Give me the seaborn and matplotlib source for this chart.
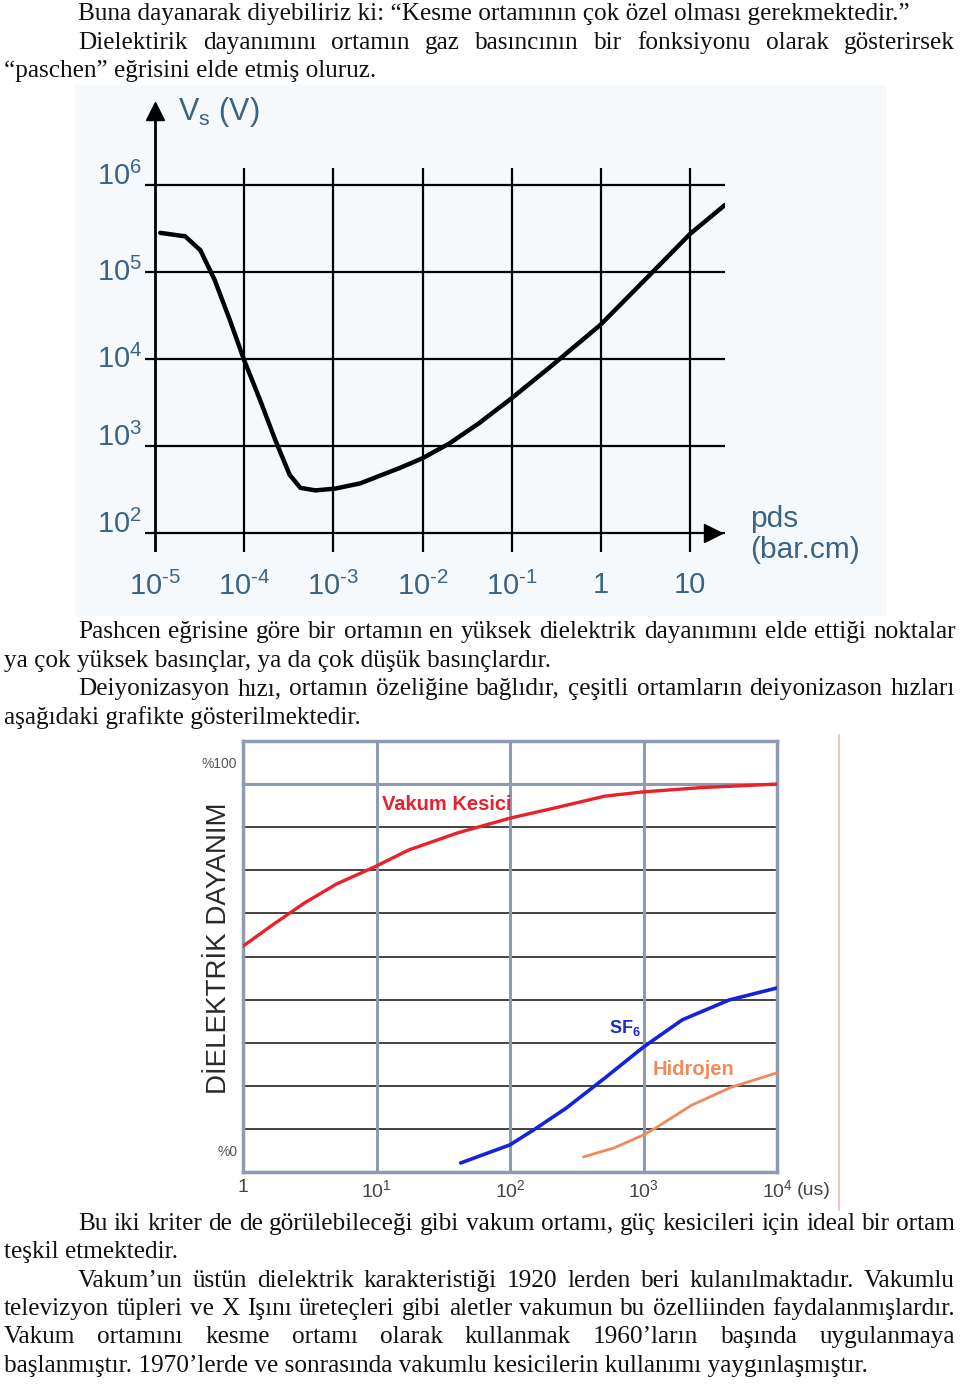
import matplotlib
matplotlib.use("Agg")
import numpy as np
import matplotlib.pyplot as plt
import seaborn as sns
from matplotlib import font_manager
from matplotlib.patches import Rectangle
from matplotlib.lines import Line2D

# --- Paschen egrisi verileri ---
PASCHEN_PDS = [1.15e-5, 2.19e-5, 3.24e-5, 4.68e-5, 6.92e-5, 1.0e-4, 1.51e-4, 2.24e-4,
               3.24e-4, 4.27e-4, 6.31e-4, 1.05e-3, 2.0e-3, 5.62e-3, 1.0e-2, 2.0e-2,
               4.27e-2, 0.1, 0.263, 0.977, 3.55, 10.0, 24.5]
PASCHEN_V = [2.82e5, 2.57e5, 1.78e5, 8.13e4, 2.82e4, 9.77e3, 3.39e3, 1.17e3,
             468, 331, 309, 324, 372, 562, 724, 1.07e3,
             1.82e3, 3.55e3, 7.94e3, 2.45e4, 9.33e4, 2.75e5, 5.89e5]
PDS_TICKS = [1e-5, 1e-4, 1e-3, 1e-2, 1e-1, 1, 10]
PDS_LABELS = ["$10^{\u20105}$", "$10^{\u20104}$", "$10^{\u20103}$", "$10^{\u20102}$",
              "$10^{\u20101}$", "1", "10"]
V_TICKS = [1e2, 1e3, 1e4, 1e5, 1e6]
V_LABELS = ["$10^{2}$", "$10^{3}$", "$10^{4}$", "$10^{5}$", "$10^{6}$"]
V_LABEL_VA = ["baseline", "baseline", "center", "center", "baseline"]

# --- Deiyonizasyon verileri ---
VAKUM_T = [1, 1.66, 2.88, 5.0, 10, 17.4, 40.7, 100, 219, 513, 1000, 2750, 10000]
VAKUM_Y = [52.4, 57.3, 62.4, 66.8, 71.0, 74.7, 78.7, 82.1, 84.5, 87.2, 88.2, 89.2, 90.0]
SF6_T = [42.7, 100, 158, 263, 513, 1000, 1950, 4370, 10000]
SF6_Y = [2.1, 6.3, 10.2, 14.8, 21.8, 29.0, 35.3, 39.9, 42.7]
H2_T = [355, 603, 1000, 1230, 2290, 4570, 10000]
H2_Y = [3.5, 5.6, 8.6, 10.2, 15.5, 19.7, 23.0]
T_TICKS = [1, 10, 100, 1000, 10000]
T_LABELS = ["1", "$10^{1}$", "$10^{2}$", "$10^{3}$", "$10^{4}$"]

# --- Metin satirlari: (metin, x0, taban cizgisi y, sag kenar veya None) ---
LINES = [
    ("Buna dayanarak diyebiliriz ki: “Kesme ortamının çok özel olması gerekmektedir.”", 78, 20, None),
    ("Dielektirik dayanımını ortamın gaz basıncının bir fonksiyonu olarak gösterirsek", 78, 49, 955),
    ("“paschen” eğrisini elde etmiş oluruz.", 4, 77, None),
    ("Pashcen eğrisine göre bir ortamın en yüksek dielektrik dayanımını elde ettiği noktalar", 78, 638, 956),
    ("ya çok yüksek basınçlar, ya da çok düşük basınçlardır.", 4, 667, None),
    ("Deiyonizasyon hızı, ortamın özeliğine bağlıdır, çeşitli ortamların deiyonizason hızları", 78, 695, 955),
    ("aşağıdaki grafikte gösterilmektedir.", 4, 724, None),
    ("Bu iki kriter de de görülebileceği gibi vakum ortamı, güç kesicileri için ideal bir ortam", 78, 1230, 955),
    ("teşkil etmektedir.", 4, 1258, None),
    ("Vakum’un üstün dielektrik karakteristiği 1920 lerden beri kulanılmaktadır. Vakumlu", 78, 1287, 955),
    ("televizyon tüpleri ve X Işını üreteçleri gibi aletler vakumun bu özelliinden faydalanmışlardır.", 4, 1315, 955),
    ("Vakum ortamını kesme ortamı olarak kullanmak 1960’ların başında uygulanmaya", 4, 1343, 955),
    ("başlanmıştır. 1970’lerde ve sonrasında vakumlu kesicilerin kullanımı yaygınlaşmıştır.", 4, 1372, None),
]

W, H = 960, 1384


def fx(px):
    return px / W


def fy(py):
    return 1 - py / H


sns.set_theme(style="white")
plt.rcParams["font.family"] = ["Liberation Sans", "DejaVu Sans"]
plt.rcParams["mathtext.fontset"] = "custom"
plt.rcParams["mathtext.rm"] = "Liberation Sans"
plt.rcParams["mathtext.it"] = "Liberation Sans"

installed = {f.name for f in font_manager.fontManager.ttflist}
narrow = "Liberation Sans Narrow" in installed

fig = plt.figure(figsize=(9.6, 13.84), dpi=100)
fig.patch.set_facecolor("white")
renderer = fig.canvas.get_renderer()

# ---------------- ust grafik: Paschen ----------------
fig.add_artist(Rectangle((fx(75), fy(615)), fx(885) - fx(75), fy(85) - fy(615),
                         transform=fig.transFigure, color="#f5f9fc", zorder=0))

blue_txt = "#3a6485"
ax1 = fig.add_axes([fx(145), fy(552), fx(725) - fx(145), fy(100) - fy(552)])
ax1.set_facecolor("none")
ax1.set_xscale("log")
ax1.set_yscale("log")
ax1.set_xlim(10 ** -5.11, 10 ** 1.39)
ax1.set_ylim(10 ** 1.782, 10 ** 6.977)
for sp in ax1.spines.values():
    sp.set_visible(False)

ax1.hlines(V_TICKS, 10 ** -5.11, 10 ** 1.39, color="black", lw=1.6, zorder=1)
ax1.vlines(PDS_TICKS[1:], 10 ** 1.782, 10 ** 6.2, color="black", lw=1.6, zorder=1)
ax1.vlines([PDS_TICKS[0]], 10 ** 1.782, 10 ** 6.85, color="black", lw=2, zorder=1)
ax1.plot([PDS_TICKS[0]], [10 ** 6.85], marker="^", ms=13, color="black", clip_on=False)
ax1.plot([10 ** 1.26], [V_TICKS[0]], marker=">", ms=13, color="black", clip_on=False)

sns.lineplot(x=PASCHEN_PDS, y=PASCHEN_V, ax=ax1, color="black", lw=3.2, sort=False, zorder=3)

ax1.set_xticks(PDS_TICKS)
ax1.set_xticklabels(PDS_LABELS, fontsize=21, color=blue_txt)
ax1.set_yticks(V_TICKS)
ax1.set_yticklabels(V_LABELS, fontsize=21, color=blue_txt)
for lab, va in zip(ax1.get_yticklabels(), V_LABEL_VA):
    lab.set_va(va)
ax1.minorticks_off()
ax1.tick_params(axis="x", length=0, pad=14)
ax1.tick_params(axis="y", length=0, pad=2)

fig.text(fx(178), fy(112), r"V$_\mathregular{s}$ (V)", fontsize=22, color=blue_txt, va="center")
fig.text(fx(750), fy(519), "pds", fontsize=21.5, color=blue_txt, va="center")
fig.text(fx(750), fy(550), "(bar.cm)", fontsize=21.5, color=blue_txt, va="center")

# ---------------- alt grafik: deiyonizasyon ----------------
frame = "#8d9bb5"
ax2 = fig.add_axes([fx(243), fy(1172), fx(777) - fx(243), fy(741) - fy(1172)])
ax2.set_facecolor("white")
ax2.set_xscale("log")
ax2.set_xlim(1, 1e4)
ax2.set_ylim(0, 100)
for sp in ax2.spines.values():
    sp.set_color(frame)
    sp.set_linewidth(2.5)

ax2.hlines([90], 1, 1e4, color=frame, lw=2.2, zorder=1)
ax2.hlines([10, 20, 30, 40, 50, 60, 70, 80], 1, 1e4, color="#222222", lw=1.2, zorder=1)
ax2.vlines(T_TICKS[1:-1], 0, 100, color=frame, lw=2.2, zorder=1)

sns.lineplot(x=VAKUM_T, y=VAKUM_Y, ax=ax2, color="#e8212b", lw=2.4, sort=False, zorder=3)
sns.lineplot(x=SF6_T, y=SF6_Y, ax=ax2, color="#1424d8", lw=2.6, sort=False, zorder=3)
sns.lineplot(x=H2_T, y=H2_Y, ax=ax2, color="#f08a5a", lw=2.0, sort=False, zorder=3)

ax2.text(33.7, 85.2, "Vakum Kesici", color="#e8212b", fontsize=14.5, fontweight="bold",
         ha="center", va="center")
ax2.text(550, 33.4, r"SF$_\mathregular{6}$", color="#1a2ad0", fontsize=13, fontweight="bold",
         ha="left", va="center")
ax2.text(1175, 23.7, "Hidrojen", color="#f08a5a", fontsize=14.5, fontweight="bold",
         ha="left", va="center")

ax2.set_xticks(T_TICKS)
ax2.set_xticklabels(T_LABELS, fontsize=14, color="#444444")
ax2.set_yticks([5, 95])
ax2.set_yticklabels(["%0", "%100"], fontsize=10, color="#555555")
ax2.minorticks_off()
ax2.tick_params(length=0)
ax2.tick_params(axis="x", pad=5)
ax2.tick_params(axis="y", pad=4)
ax2.annotate("(us)", xy=(1e4, 0), xycoords=("data", "axes fraction"),
             xytext=(14, -7), textcoords="offset points", fontsize=14, color="#444444",
             ha="left", va="top")

if narrow:
    fig.text(fx(219), fy(948), "DİELEKTRİK DAYANIM", rotation=90, ha="center", va="center",
             fontsize=24, color="#2a2a2a", family="Liberation Sans Narrow")
else:
    fig.text(fx(219), fy(948), "DİELEKTRİK DAYANIM", rotation=90, ha="center", va="center",
             fontsize=20, color="#2a2a2a")

fig.add_artist(Line2D([fx(839), fx(839)], [fy(735), fy(1210)], transform=fig.transFigure,
                      color="#f3c6c6", lw=1.5))

# ---------------- metin ----------------
body = dict(fontsize=18.2, color="#111111", family=["Liberation Serif", "DejaVu Serif"],
            va="baseline", ha="left")


def put_line(s, x0, yb, x1):
    if x1 is None:
        fig.text(fx(x0), fy(yb), s, **body)
        return
    words = s.split()
    arts = [fig.text(0, fy(yb), w, **body) for w in words]
    widths = [a.get_window_extent(renderer).width for a in arts]
    gap = (x1 - x0 - sum(widths)) / (len(words) - 1)
    x = x0
    for a, w in zip(arts, widths):
        a.set_x(fx(x))
        x += w + gap


for s, x0, yb, x1 in LINES:
    put_line(s, x0, yb, x1)

fig.savefig("out.png", dpi=100)
